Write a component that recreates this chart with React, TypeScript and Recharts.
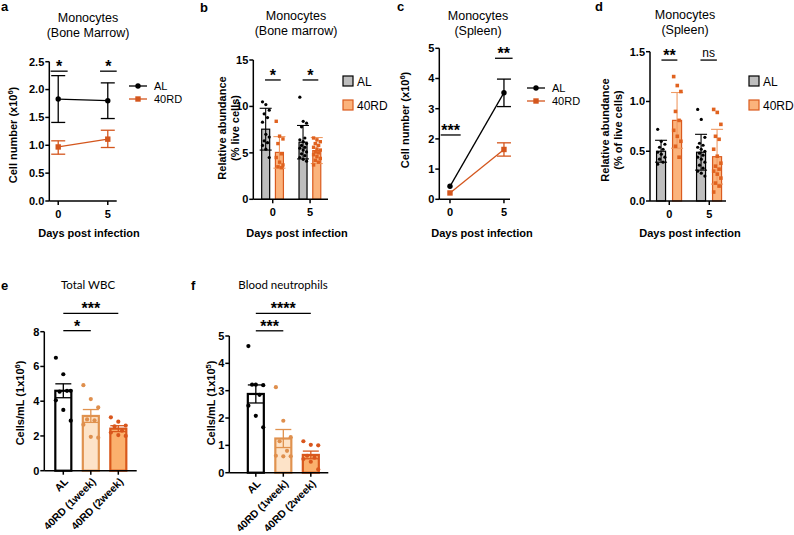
import React from 'react';
import {
  ComposedChart,
  Line,
  Bar,
  Scatter,
  XAxis,
  YAxis,
  ErrorBar,
  ReferenceLine,
} from 'recharts';

const FONT = '"Liberation Sans", Arial, Helvetica, sans-serif';
const TITLE_FONT_EF = 'Lato, "Noto Sans", sans-serif';

const BLACK = '#000000';
const RD_LINE = '#d4561d';
const GRAY_FILL = '#bebebe';
const RD_FILL = '#fbb37c';
const RD_STROKE = '#da5b1f';
const RD_DOT = '#e0621f';
const RD_ERR = '#ef9a63';
const W1_FILL = '#fde3c8';
const W1_STROKE = '#e0924f';
const W1_DOT = '#df8f4d';
const W2_FILL = '#fbb06d';
const W2_STROKE = '#d9581b';
const W2_DOT = '#d9561d';

// ---------------- DATA ----------------
const days = [0, 5];

// a: Monocytes, bone marrow, cell number (x10^6), mean with error range
const bmCountAL = [1.83, 1.8];
const bmCountALLow = [1.41, 1.48];
const bmCountALHigh = [2.25, 2.12];
const bmCountRD = [0.97, 1.11];
const bmCountRDLow = [0.84, 0.96];
const bmCountRDHigh = [1.08, 1.27];

// b: Monocytes, bone marrow, relative abundance (% live cells)
const bmPctMeanAL = [7.55, 6.15];
const bmPctSdAL = [2.25, 1.8];
const bmPctMeanRD = [5.05, 5.25];
const bmPctSdRD = [1.7, 1.4];
const bmPctDotsAL = [
  [10.5, 10.2, 9.6, 9.2, 8.8, 8.3, 7.0, 6.7, 6.3, 6.1, 5.8, 5.4, 4.5],
  [11.0, 8.4, 8.2, 7.8, 6.6, 6.4, 6.2, 6.0, 5.8, 5.6, 5.5, 5.3, 5.1, 4.9, 4.7, 4.5, 4.3, 4.1],
];
const bmPctDotsRD = [
  [8.4, 6.8, 6.5, 6.0, 4.9, 4.5, 4.0, 3.7, 3.5, 3.4],
  [6.6, 6.4, 6.2, 6.0, 5.8, 5.6, 5.4, 5.3, 5.1, 5.0, 4.8, 4.6, 4.4, 4.2, 4.0, 3.7],
];

// c: Monocytes, spleen, cell number (x10^6); day-0 error is hidden behind the marker (null)
const spCountAL = [0.43, 3.53];
const spCountALLow = [null, 3.07];
const spCountALHigh = [null, 3.98];
const spCountRD = [0.21, 1.65];
const spCountRDLow = [null, 1.43];
const spCountRDHigh = [null, 1.87];

// d: Monocytes, spleen, relative abundance (% of live cells)
const spPctMeanAL = [0.5, 0.49];
const spPctSdAL = [0.11, 0.18];
const spPctMeanRD = [0.81, 0.445];
const spPctSdRD = [0.28, 0.275];
const spPctDotsAL = [
  [0.72, 0.6, 0.57, 0.54, 0.52, 0.49, 0.47, 0.44, 0.42, 0.39, 0.37],
  [0.92, 0.82, 0.64, 0.58, 0.56, 0.54, 0.52, 0.5, 0.48, 0.46, 0.44, 0.42, 0.39, 0.36, 0.33, 0.3, 0.28, 0.25],
];
const spPctDotsRD = [
  [1.25, 1.16, 1.1, 0.9, 0.81, 0.71, 0.65, 0.6, 0.55, 0.44],
  [0.92, 0.89, 0.77, 0.65, 0.62, 0.52, 0.45, 0.38, 0.35, 0.32, 0.3, 0.27, 0.23, 0.18, 0.15, 0.09],
];

// e: Total WBC, cells/mL (1x10^6)
const bloodGroups = ['AL', '40RD (1week)', '40RD (2week)'];
const wbcMean = [4.6, 3.15, 2.42];
const wbcSem = [0.4, 0.37, 0.17];
const wbcDots = [
  [6.5, 5.55, 4.6, 4.55, 4.6, 4.05, 3.5, 2.88],
  [4.92, 4.12, 3.64, 2.95, 2.9, 2.65, 1.95, 1.9],
  [3.07, 2.82, 2.6, 2.55, 2.3, 2.2, 2.05, 2.0],
];

// f: Blood neutrophils, cells/mL (1x10^5)
const neuMean = [2.88, 1.25, 0.65];
const neuSem = [0.33, 0.33, 0.14];
const neuDots = [
  [4.63, 3.22, 3.2, 3.22, 2.85, 2.45, 2.08, 1.66],
  [3.13, 1.9, 1.3, 1.15, 0.8, 0.62, 0.6, 0.6],
  [1.15, 1.02, 1.0, 0.62, 0.55, 0.5, 0.4, 0.12],
];

// ---------------- LAYOUT HELPERS ----------------
type Box = { left: number; top: number; width: number; height: number };
type Plot = { x0: number; x1: number; y0: number; y1: number };
type Sig = { x1: number; x2: number; y: number; text: string; bold?: boolean };

const axisLineStyle = { stroke: BLACK, strokeWidth: 1.5 };
const tickStyle = { fill: BLACK, fontSize: 11, fontWeight: 700, fontFamily: FONT };

function marginFor(b: Box, p: Plot, xh: number) {
  return {
    top: p.y0 - b.top,
    left: 0,
    right: b.left + b.width - p.x1,
    bottom: b.top + b.height - p.y1 - xh,
  };
}

// deterministic horizontal spread pattern for dot clouds
function jitter(i: number) {
  return (((i * 7) % 5) - 2) / 2;
}

const circleShape = (color: string, r: number) => (p: any) =>
  <circle cx={p.cx} cy={p.cy} r={r} fill={color} />;
const squareShape = (color: string, s: number) => (p: any) =>
  <rect x={p.cx - s / 2} y={p.cy - s / 2} width={s} height={s} fill={color} />;

// bar drawn around the scale position that the library computes for each row
const barShape =
  (w: number, sw: number, fillOf: (p: any) => string, strokeOf: (p: any) => string) => (p: any) => {
    const cx = p.x + (p.width || 0) / 2;
    const h = p.height || 0;
    const top = Math.min(p.y, p.y + h);
    return (
      <rect
        x={cx - w / 2}
        y={top}
        width={w}
        height={Math.abs(h)}
        fill={fillOf(p)}
        stroke={strokeOf(p)}
        strokeWidth={sw}
      />
    );
  };

function sigLines(sigs: Sig[], prefix: string) {
  return sigs.map((s, i) => (
    <ReferenceLine
      key={prefix + i}
      segment={[
        { x: s.x1, y: s.y },
        { x: s.x2, y: s.y },
      ]}
      stroke={BLACK}
      strokeWidth={1.3}
      ifOverflow="visible"
      label={{
        value: s.text,
        position: 'top',
        offset: s.bold === false ? 3 : -1,
        fill: BLACK,
        fontSize: s.bold === false ? 12 : 16,
        fontWeight: s.bold === false ? 400 : 700,
        fontFamily: FONT,
      }}
    />
  ));
}

// ---------------- LINE PANELS (a, c) ----------------
function LinePanel(props: {
  box: Box;
  plot: Plot;
  xDomain: [number, number];
  yDomain: [number, number];
  yTicks: number[];
  yFmt: (v: number) => string;
  al: number[];
  alLo: (number | null)[];
  alHi: (number | null)[];
  rd: number[];
  rdLo: (number | null)[];
  rdHi: (number | null)[];
  sigs: Sig[];
}) {
  const { box, plot } = props;
  const xh = 40;
  const err = (m: number, lo: number | null, hi: number | null) =>
    lo == null || hi == null ? null : [m - lo, hi - m];
  const rows = days.map((d, i) => ({
    x: d,
    al: props.al[i],
    alErr: err(props.al[i], props.alLo[i], props.alHi[i]),
    rd: props.rd[i],
    rdErr: err(props.rd[i], props.rdLo[i], props.rdHi[i]),
  }));
  return (
    <div style={{ position: 'absolute', left: box.left, top: box.top }}>
      <ComposedChart width={box.width} height={box.height} data={rows} margin={marginFor(box, plot, xh)}>
        <XAxis
          type="number"
          dataKey="x"
          domain={props.xDomain}
          ticks={days}
          interval={0}
          axisLine={axisLineStyle}
          tickLine={axisLineStyle}
          tickSize={4}
          tickMargin={5}
          tick={tickStyle}
          height={xh}
        />
        <YAxis
          type="number"
          domain={props.yDomain}
          ticks={props.yTicks}
          interval={0}
          tickFormatter={props.yFmt}
          axisLine={axisLineStyle}
          tickLine={axisLineStyle}
          tickSize={4}
          tickMargin={1}
          tick={tickStyle}
          width={plot.x0 - box.left}
        />
        <Line
          dataKey="al"
          stroke={BLACK}
          strokeWidth={1.3}
          isAnimationActive={false}
          activeDot={false}
          dot={(p: any) => <circle key={'a' + p.index} cx={p.cx} cy={p.cy} r={2.7} fill={BLACK} />}
        >
          <ErrorBar dataKey="alErr" direction="y" width={7} stroke={BLACK} strokeWidth={1.3} isAnimationActive={false} />
        </Line>
        <Line
          dataKey="rd"
          stroke={RD_LINE}
          strokeWidth={1.3}
          isAnimationActive={false}
          activeDot={false}
          dot={(p: any) => (
            <rect key={'r' + p.index} x={p.cx - 2.7} y={p.cy - 2.7} width={5.4} height={5.4} fill={RD_LINE} />
          )}
        >
          <ErrorBar dataKey="rdErr" direction="y" width={7} stroke={RD_LINE} strokeWidth={1.3} isAnimationActive={false} />
        </Line>
        {sigLines(props.sigs, 's')}
      </ComposedChart>
    </div>
  );
}

// ---------------- GROUPED BAR PANELS (b, d) ----------------
function GroupBarPanel(props: {
  box: Box;
  plot: Plot;
  xDomain: [number, number];
  yDomain: [number, number];
  yTicks: number[];
  yFmt: (v: number) => string;
  off: number;
  spread: number;
  barW: number;
  dotSize: number;
  meanAL: number[];
  sdAL: number[];
  meanRD: number[];
  sdRD: number[];
  dotsAL: number[][];
  dotsRD: number[][];
  sigs: Sig[];
}) {
  const { box, plot, off, spread } = props;
  const xh = 40;
  const rows: any[] = [];
  days.forEach((d, i) => {
    rows.push({ x: d - off, mean: props.meanAL[i], errAL: props.sdAL[i], grp: 'AL' });
    rows.push({ x: d + off, mean: props.meanRD[i], errRD: props.sdRD[i], grp: 'RD' });
  });
  const ptsAL: any[] = [];
  const ptsRD: any[] = [];
  days.forEach((d, i) => {
    props.dotsAL[i].forEach((v, j) => ptsAL.push({ x: d - off + jitter(j) * spread, y: v }));
    props.dotsRD[i].forEach((v, j) => ptsRD.push({ x: d + off + jitter(j) * spread, y: v }));
  });
  return (
    <div style={{ position: 'absolute', left: box.left, top: box.top }}>
      <ComposedChart width={box.width} height={box.height} data={rows} margin={marginFor(box, plot, xh)}>
        <XAxis
          type="number"
          dataKey="x"
          domain={props.xDomain}
          ticks={days}
          interval={0}
          axisLine={axisLineStyle}
          tickLine={axisLineStyle}
          tickSize={4}
          tickMargin={5}
          tick={tickStyle}
          height={xh}
        />
        <YAxis
          type="number"
          domain={props.yDomain}
          ticks={props.yTicks}
          interval={0}
          tickFormatter={props.yFmt}
          axisLine={axisLineStyle}
          tickLine={axisLineStyle}
          tickSize={4}
          tickMargin={1}
          tick={tickStyle}
          width={plot.x0 - box.left}
        />
        <Bar
          dataKey="mean"
          isAnimationActive={false}
          shape={barShape(
            props.barW,
            1.2,
            (p) => (p.payload?.grp === 'AL' ? GRAY_FILL : RD_FILL),
            (p) => (p.payload?.grp === 'AL' ? BLACK : RD_STROKE),
          )}
        >
          <ErrorBar dataKey="errAL" direction="y" width={6} stroke={BLACK} strokeWidth={1.1} isAnimationActive={false} />
          <ErrorBar dataKey="errRD" direction="y" width={6} stroke={RD_ERR} strokeWidth={1.1} isAnimationActive={false} />
        </Bar>
        <Scatter data={ptsAL} dataKey="y" isAnimationActive={false} shape={circleShape(BLACK, 1.6)} />
        <Scatter data={ptsRD} dataKey="y" isAnimationActive={false} shape={squareShape(RD_DOT, props.dotSize)} />
        {sigLines(props.sigs, 'g')}
      </ComposedChart>
    </div>
  );
}

// ---------------- THREE-GROUP BAR PANELS (e, f) ----------------
const efFills = ['#ffffff', W1_FILL, W2_FILL];
const efStrokes = [BLACK, W1_STROKE, W2_STROKE];
const efDots = [BLACK, W1_DOT, W2_DOT];

function RotTick(props: any) {
  const { x, y, payload } = props;
  const label = bloodGroups[payload?.value] ?? '';
  const ax = x + 3;
  const ay = y + 5;
  return (
    <text
      x={ax}
      y={ay}
      dy="0.35em"
      transform={`rotate(-45 ${ax} ${ay})`}
      textAnchor="end"
      fontFamily={FONT}
      fontSize={10.5}
      fontWeight={700}
      fill={BLACK}
    >
      {label}
    </text>
  );
}

function BloodPanel(props: {
  box: Box;
  plot: Plot;
  xDomain: [number, number];
  yDomain: [number, number];
  yTicks: number[];
  mean: number[];
  sem: number[];
  dots: number[][];
  sigs: Sig[];
}) {
  const { box, plot } = props;
  const xh = box.top + box.height - plot.y1;
  const rows = bloodGroups.map((g, i) => {
    const r: any = { x: i, mean: props.mean[i], grp: g };
    r['err' + i] = props.sem[i];
    return r;
  });
  const idx = bloodGroups.map((_, i) => i);
  return (
    <div style={{ position: 'absolute', left: box.left, top: box.top }}>
      <ComposedChart width={box.width} height={box.height} data={rows} margin={marginFor(box, plot, xh)}>
        <XAxis
          type="number"
          dataKey="x"
          domain={props.xDomain}
          ticks={idx}
          interval={0}
          axisLine={axisLineStyle}
          tickLine={axisLineStyle}
          tickSize={4}
          tickMargin={0}
          tick={<RotTick />}
          height={xh}
        />
        <YAxis
          type="number"
          domain={props.yDomain}
          ticks={props.yTicks}
          interval={0}
          axisLine={axisLineStyle}
          tickLine={axisLineStyle}
          tickSize={4}
          tickMargin={1}
          tick={tickStyle}
          width={plot.x0 - box.left}
        />
        <Bar
          dataKey="mean"
          isAnimationActive={false}
          shape={barShape(
            16,
            2.2,
            (p) => efFills[bloodGroups.indexOf(p.payload?.grp)] ?? '#fff',
            (p) => efStrokes[bloodGroups.indexOf(p.payload?.grp)] ?? BLACK,
          )}
        >
          {idx.map((i) => (
            <ErrorBar
              key={'e' + i}
              dataKey={'err' + i}
              direction="y"
              width={8}
              stroke={efStrokes[i]}
              strokeWidth={1.3}
              isAnimationActive={false}
            />
          ))}
        </Bar>
        {idx.map((i) => (
          <Scatter
            key={'s' + i}
            data={props.dots[i].map((v, j) => ({ x: i + jitter(j) * 0.27, y: v }))}
            dataKey="y"
            isAnimationActive={false}
            shape={circleShape(efDots[i], 2.1)}
          />
        ))}
        {sigLines(props.sigs, 'b')}
      </ComposedChart>
    </div>
  );
}

// ---------------- OVERLAY TEXT ----------------
function Sup({ base, sup, tail }: { base: string; sup: string; tail: string }) {
  return (
    <>
      {base}
      <tspan dy={-4} fontSize={7.5}>
        {sup}
      </tspan>
      <tspan dy={4}>{tail}</tspan>
    </>
  );
}

function VText({ x, y, children, size = 11 }: { x: number; y: number; children: any; size?: number }) {
  return (
    <text
      x={x}
      y={y}
      transform={`rotate(-90 ${x} ${y})`}
      textAnchor="middle"
      fontFamily={FONT}
      fontWeight={700}
      fontSize={size}
      fill={BLACK}
    >
      {children}
    </text>
  );
}

function Title({ x, y, lines }: { x: number; y: number; lines: string[] }) {
  return (
    <>
      {lines.map((l, i) => (
        <text key={i} x={x} y={y + i * 15} textAnchor="middle" fontFamily={FONT} fontSize={12.5} fill={BLACK}>
          {l}
        </text>
      ))}
    </>
  );
}

function LineLegend({ x, y, fs = 11 }: { x: number; y: number; fs?: number }) {
  return (
    <g fontFamily={FONT} fontSize={fs} fill={BLACK}>
      <line x1={x} x2={x + 18} y1={y} y2={y} stroke={BLACK} strokeWidth={1.3} />
      <circle cx={x + 9} cy={y} r={2.7} fill={BLACK} />
      <text x={x + 25} y={y + 4}>AL</text>
      <line x1={x} x2={x + 18} y1={y + 13} y2={y + 13} stroke={RD_LINE} strokeWidth={1.3} />
      <rect x={x + 6.3} y={y + 10.3} width={5.4} height={5.4} fill={RD_LINE} />
      <text x={x + 25} y={y + 17}>40RD</text>
    </g>
  );
}

function BoxLegend({ x, y }: { x: number; y: number }) {
  return (
    <g fontFamily={FONT} fontSize={12} fill={BLACK}>
      <rect x={x} y={y - 5} width={10} height={10} fill={GRAY_FILL} stroke={BLACK} strokeWidth={1.2} />
      <text x={x + 14} y={y + 4.5}>AL</text>
      <rect x={x} y={y + 19} width={10} height={10} fill={RD_FILL} stroke={RD_STROKE} strokeWidth={1.2} />
      <text x={x + 14} y={y + 28.5}>40RD</text>
    </g>
  );
}

function Letter({ x, y, t }: { x: number; y: number; t: string }) {
  return (
    <text x={x} y={y} fontFamily={FONT} fontWeight={700} fontSize={13} fill={BLACK}>
      {t}
    </text>
  );
}

function XTitle({ x }: { x: number }) {
  return (
    <text x={x} y={237} textAnchor="middle" fontFamily={FONT} fontWeight={700} fontSize={11} fill={BLACK}>
      Days post infection
    </text>
  );
}

function Overlay() {
  return (
    <svg width={794} height={535} style={{ position: 'absolute', left: 0, top: 0, pointerEvents: 'none' }}>
      <Letter x={1} y={11} t="a" />
      <Letter x={200} y={12} t="b" />
      <Letter x={397} y={11} t="c" />
      <Letter x={595} y={11} t="d" />
      <Letter x={1} y={290} t="e" />
      <Letter x={191} y={290} t="f" />

      <Title x={88} y={22} lines={['Monocytes', '(Bone Marrow)']} />
      <Title x={296} y={20} lines={['Monocytes', '(Bone marrow)']} />
      <Title x={478} y={20} lines={['Monocytes', '(Spleen)']} />
      <Title x={685} y={19} lines={['Monocytes', '(Spleen)']} />
      <text x={88} y={289} textAnchor="middle" fontFamily={TITLE_FONT_EF} fontSize={11.5} fill={BLACK}>
        Total WBC
      </text>
      <text x={283} y={289} textAnchor="middle" fontFamily={TITLE_FONT_EF} fontSize={11.5} fill={BLACK}>
        Blood neutrophils
      </text>

      <XTitle x={89} />
      <XTitle x={297} />
      <XTitle x={482} />
      <XTitle x={690} />

      <VText x={17} y={135}>
        <Sup base="Cell number (x10" sup="6" tail=")" />
      </VText>
      <VText x={226} y={128}>Relative abundance</VText>
      <VText x={239} y={128}>(% live cells)</VText>
      <VText x={409} y={120}>
        <Sup base="Cell number (x10" sup="6" tail=")" />
      </VText>
      <VText x={609} y={130}>Relative abundance</VText>
      <VText x={622} y={130}>(% of live cells)</VText>
      <VText x={24} y={403}>
        <Sup base="Cells/mL (1x10" sup="6" tail=")" />
      </VText>
      <VText x={215} y={403}>
        <Sup base="Cells/mL (1x10" sup="5" tail=")" />
      </VText>

      <LineLegend x={129} y={86} />
      <LineLegend x={527} y={88} />
      <BoxLegend x={343} y={81} />
      <BoxLegend x={749} y={81} />
    </svg>
  );
}

export default function App() {
  return (
    <div style={{ position: 'absolute', left: 0, top: 0, width: 794, height: 535, background: '#fff' }}>
      <LinePanel
        box={{ left: 0, top: 0, width: 190, height: 250 }}
        plot={{ x0: 49.3, x1: 116.7, y0: 61.7, y1: 201 }}
        xDomain={[-0.9, 5.9]}
        yDomain={[0, 2.5]}
        yTicks={[0, 0.5, 1, 1.5, 2, 2.5]}
        yFmt={(v) => v.toFixed(1)}
        al={bmCountAL}
        alLo={bmCountALLow}
        alHi={bmCountALHigh}
        rd={bmCountRD}
        rdLo={bmCountRDLow}
        rdHi={bmCountRDHigh}
        sigs={[
          { x1: -0.77, x2: 0.95, y: 2.33, text: '*' },
          { x1: 4.22, x2: 5.9, y: 2.33, text: '*' },
        ]}
      />
      <GroupBarPanel
        box={{ left: 190, top: 0, width: 200, height: 250 }}
        plot={{ x0: 253.3, x1: 328, y0: 60, y1: 199.3 }}
        xDomain={[-2.6, 7.4]}
        yDomain={[0, 15]}
        yTicks={[0, 5, 10, 15]}
        yFmt={(v) => String(v)}
        off={0.92}
        spread={0.45}
        barW={8}
        dotSize={3.4}
        meanAL={bmPctMeanAL}
        sdAL={bmPctSdAL}
        meanRD={bmPctMeanRD}
        sdRD={bmPctSdRD}
        dotsAL={bmPctDotsAL}
        dotsRD={bmPctDotsRD}
        sigs={[
          { x1: -1.03, x2: 1.07, y: 12.85, text: '*' },
          { x1: 4.0, x2: 6.1, y: 12.85, text: '*' },
        ]}
      />
      <LinePanel
        box={{ left: 390, top: 0, width: 200, height: 250 }}
        plot={{ x0: 439.3, x1: 510, y0: 48.3, y1: 199.3 }}
        xDomain={[-0.99, 5.56]}
        yDomain={[0, 5]}
        yTicks={[0, 1, 2, 3, 4, 5]}
        yFmt={(v) => String(v)}
        al={spCountAL}
        alLo={spCountALLow}
        alHi={spCountALHigh}
        rd={spCountRD}
        rdLo={spCountRDLow}
        rdHi={spCountRDHigh}
        sigs={[
          { x1: -0.86, x2: 0.99, y: 2.13, text: '***' },
          { x1: 4.17, x2: 5.8, y: 4.67, text: '**' },
        ]}
      />
      <GroupBarPanel
        box={{ left: 590, top: 0, width: 204, height: 250 }}
        plot={{ x0: 650, x1: 726, y0: 51.7, y1: 201 }}
        xDomain={[-2.41, 7.09]}
        yDomain={[0, 1.5]}
        yTicks={[0, 0.5, 1, 1.5]}
        yFmt={(v) => v.toFixed(1)}
        off={1.0}
        spread={0.45}
        barW={9}
        dotSize={3.6}
        meanAL={spPctMeanAL}
        sdAL={spPctSdAL}
        meanRD={spPctMeanRD}
        sdRD={spPctSdRD}
        dotsAL={spPctDotsAL}
        dotsRD={spPctDotsRD}
        sigs={[
          { x1: -0.98, x2: 1.01, y: 1.416, text: '**' },
          { x1: 3.9, x2: 5.95, y: 1.416, text: 'ns', bold: false },
        ]}
      />
      <BloodPanel
        box={{ left: 0, top: 280, width: 190, height: 255 }}
        plot={{ x0: 44.3, x1: 136.7, y0: 331.7, y1: 470.7 }}
        xDomain={[-0.691, 2.669]}
        yDomain={[0, 8]}
        yTicks={[0, 2, 4, 6, 8]}
        mean={wbcMean}
        sem={wbcSem}
        dots={wbcDots}
        sigs={[
          { x1: 0, x2: 1, y: 8.06, text: '*' },
          { x1: 0, x2: 2, y: 9.06, text: '***' },
        ]}
      />
      <BloodPanel
        box={{ left: 190, top: 280, width: 200, height: 255 }}
        plot={{ x0: 229.3, x1: 328.3, y0: 336, y1: 472.7 }}
        xDomain={[-0.964, 2.636]}
        yDomain={[0, 5]}
        yTicks={[0, 1, 2, 3, 4, 5]}
        mean={neuMean}
        sem={neuSem}
        dots={neuDots}
        sigs={[
          { x1: 0, x2: 1, y: 5.19, text: '***' },
          { x1: 0, x2: 2, y: 5.83, text: '****' },
        ]}
      />
      <Overlay />
    </div>
  );
}
